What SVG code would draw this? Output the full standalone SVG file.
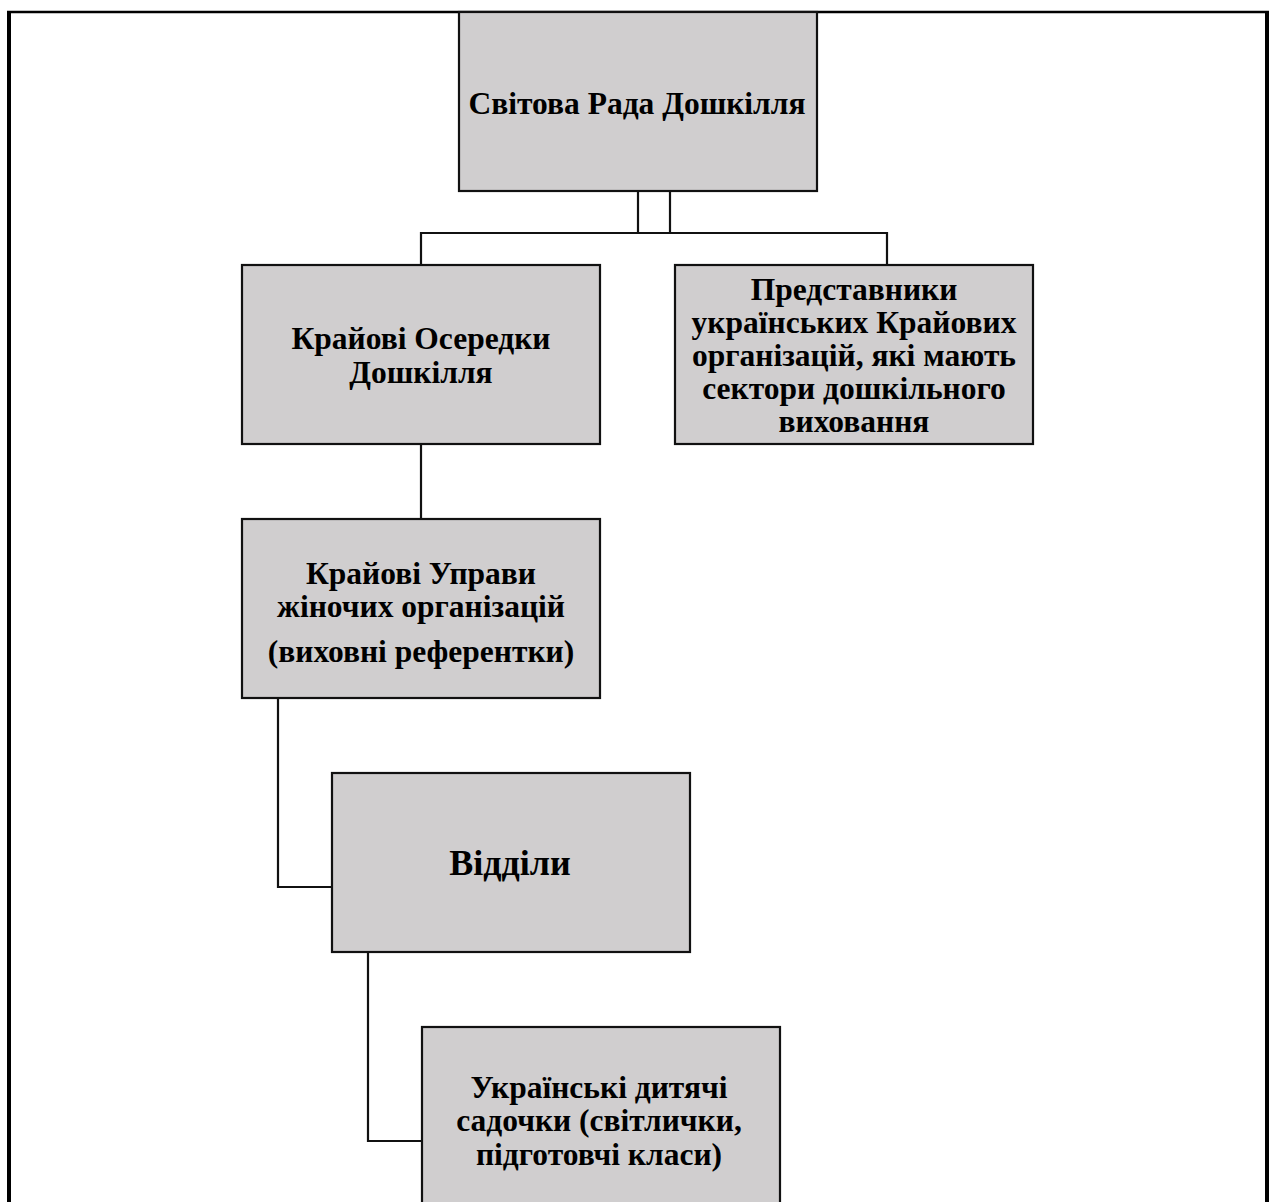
<svg xmlns="http://www.w3.org/2000/svg" width="1273" height="1202" viewBox="0 0 1273 1202">
<style>
.box{fill:#d0cecf;stroke:#111;stroke-width:2.2}
.t{font-family:"Liberation Serif","Times New Roman",serif;font-weight:bold;font-size:31.5px;fill:#000;text-anchor:middle}
.big{font-size:36px}
.c{fill:none;stroke:#111;stroke-width:2.2}
.f{stroke:#000}
</style>
<rect width="1273" height="1202" fill="#fff"/>
<g id="frame">
<line class="f" x1="7" y1="12" x2="1269" y2="12" stroke-width="2.5"/>
<line class="f" x1="9" y1="11" x2="9" y2="1202" stroke-width="4"/>
<line class="f" x1="1267" y1="11" x2="1267" y2="1202" stroke-width="4"/>
</g>
<g id="connectors">
<polyline class="c" points="638,191 638,233"/>
<polyline class="c" points="670,191 670,233"/>
<polyline class="c" points="421,265 421,233 887,233 887,265"/>
<polyline class="c" points="421,444 421,519"/>
<polyline class="c" points="278,698 278,887 332,887"/>
<polyline class="c" points="368,952 368,1141 422,1141"/>
</g>
<g id="n1">
<rect class="box" x="459" y="12" width="358" height="179"/>
<text class="t" x="637" y="114">Світова Рада Дошкілля</text>
</g>
<g id="n2">
<rect class="box" x="242" y="265" width="358" height="179"/>
<text class="t" x="421" y="349">Крайові Осередки</text>
<text class="t" x="421" y="383">Дошкілля</text>
</g>
<g id="n3">
<rect class="box" x="675" y="265" width="358" height="179"/>
<text class="t" x="854" y="300">Представники</text>
<text class="t" x="854" y="333">українських Крайових</text>
<text class="t" x="854" y="366">організацій, які мають</text>
<text class="t" x="854" y="399">сектори дошкільного</text>
<text class="t" x="854" y="432">виховання</text>
</g>
<g id="n4">
<rect class="box" x="242" y="519" width="358" height="179"/>
<text class="t" x="421" y="584">Крайові Управи</text>
<text class="t" x="421" y="617">жіночих організацій</text>
<text class="t" x="421" y="662">(виховні референтки)</text>
</g>
<g id="n5">
<rect class="box" x="332" y="773" width="358" height="179"/>
<text class="t big" x="510" y="875">Відділи</text>
</g>
<g id="n6">
<rect class="box" x="422" y="1027" width="358" height="220"/>
<text class="t" x="599" y="1098">Українські дитячі</text>
<text class="t" x="599" y="1131">садочки (світлички,</text>
<text class="t" x="599" y="1165">підготовчі класи)</text>
</g>
</svg>
